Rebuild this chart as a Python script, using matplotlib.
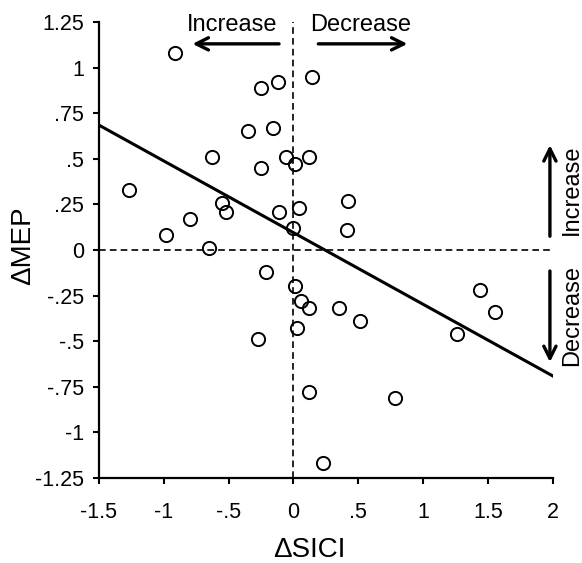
import numpy as np
import matplotlib
matplotlib.use('Agg')
import matplotlib.pyplot as plt

plt.rcParams['font.family'] = ['Liberation Sans', 'DejaVu Sans']

# ΔSICI / ΔMEP pairs
delta_sici = [-0.91, -0.25, -0.12, 0.14, -0.35, -0.16, -0.63, -0.25, -0.06, 0.01,
              0.12, -1.27, -0.55, -0.52, -0.80, -0.98, -0.65, -0.11, 0.04, 0.00,
              0.42, 0.41, -0.21, 0.01, 0.06, 0.12, 0.35, 0.03, -0.27, 0.12,
              0.23, 0.51, 1.44, 1.55, 1.26, 0.78]
delta_mep = [1.08, 0.89, 0.92, 0.95, 0.65, 0.67, 0.51, 0.45, 0.51, 0.47,
             0.51, 0.33, 0.26, 0.21, 0.17, 0.08, 0.01, 0.21, 0.23, 0.12,
             0.27, 0.11, -0.12, -0.20, -0.28, -0.32, -0.32, -0.43, -0.49, -0.78,
             -1.17, -0.39, -0.22, -0.34, -0.46, -0.81]

# regression line
fit_slope = -0.393
fit_intercept = 0.095

xticks = [-1.5, -1, -0.5, 0, 0.5, 1, 1.5, 2]
xticklabels = ['-1.5', '-1', '-.5', '0', '.5', '1', '1.5', '2']
yticks = [1.25, 1, 0.75, 0.5, 0.25, 0, -0.25, -0.5, -0.75, -1, -1.25]
yticklabels = ['1.25', '1', '.75', '.5', '.25', '0', '-.25', '-.5', '-.75', '-1', '-1.25']

fig = plt.figure(figsize=(5.82, 5.63), dpi=100)
ax = fig.add_axes([0.170, 0.151, 0.780, 0.810])

ax.set_xlim(-1.5, 2)
ax.set_ylim(-1.25, 1.25)

# reference lines
ax.plot([-1.5, 2], [0, 0], color='black', lw=1.2, ls=(0, (4, 2.5)), zorder=1)
ax.plot([0, 0], [-1.25, 1.25], color='black', lw=1.2, ls=(0, (4, 2.5)), zorder=1)

xs = np.array([-1.5, 2])
ax.plot(xs, fit_slope * xs + fit_intercept, color='black', lw=2.2, zorder=2)

ax.plot(delta_sici, delta_mep, 'o', ms=9.5, mfc='none', mec='black', mew=1.4, zorder=3)

for s in ['top', 'right']:
    ax.spines[s].set_visible(False)
for s in ['left', 'bottom']:
    ax.spines[s].set_linewidth(1.6)

ax.set_xticks(xticks)
ax.set_xticklabels(xticklabels)
ax.set_yticks(yticks)
ax.set_yticklabels(yticklabels)
ax.tick_params(direction='out', length=4.5, width=1.5, labelsize=15.5)
ax.tick_params(axis='y', pad=6)
ax.tick_params(axis='x', pad=13)

arrow = dict(arrowstyle='->', lw=2.4, color='black', mutation_scale=22)
ax.annotate('', xy=(-0.80, 1.13), xytext=(-0.09, 1.13), arrowprops=arrow, annotation_clip=False)
ax.annotate('', xy=(0.90, 1.13), xytext=(0.17, 1.13), arrowprops=arrow, annotation_clip=False)
ax.text(-0.47, 1.235, 'Increase', ha='center', va='center', fontsize=17)
ax.text(0.52, 1.235, 'Decrease', ha='center', va='center', fontsize=17)

ax.annotate('', xy=(1.977, 0.59), xytext=(1.977, 0.06), arrowprops=arrow, annotation_clip=False)
ax.annotate('', xy=(1.977, -0.63), xytext=(1.977, -0.10), arrowprops=arrow, annotation_clip=False)
ax.text(2.15, 0.33, 'Increase', ha='center', va='center', rotation=90, fontsize=17, clip_on=False)
ax.text(2.15, -0.36, 'Decrease', ha='center', va='center', rotation=90, fontsize=17, clip_on=False)

fig.text(309 / 582, 1 - 550 / 563, 'ΔSICI', ha='center', va='center', fontsize=20)
fig.text(23 / 582, 1 - 246 / 563, 'ΔMEP', ha='center', va='center', rotation=90, fontsize=20)

plt.savefig('out.png', dpi=100)
